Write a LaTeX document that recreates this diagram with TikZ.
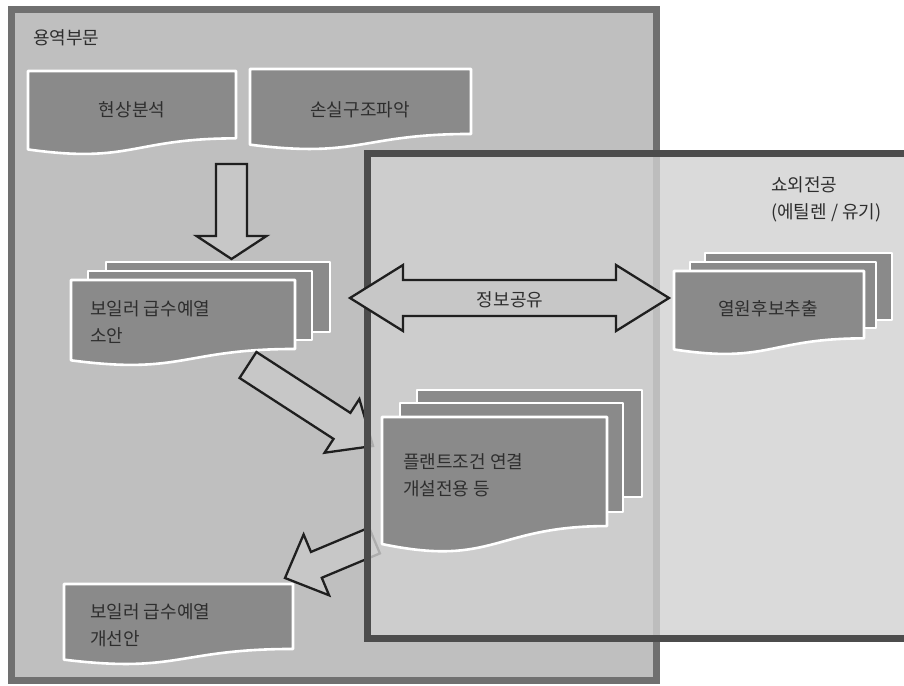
\documentclass[tikz,border=0pt]{standalone}
\usepackage{fontspec}
\newfontfamily\krfont{Noto Sans CJK KR}
\usetikzlibrary{calc}
\definecolor{leftbg}{gray}{0.75}
\definecolor{leftborder}{gray}{0.44}
\definecolor{rightbg}{gray}{0.82}
\definecolor{rightborder}{gray}{0.30}
\definecolor{docfill}{gray}{0.54}
\definecolor{textcol}{gray}{0.18}
\definecolor{arrowfill}{gray}{0.78}
\definecolor{arrowline}{gray}{0.12}

\tikzset{
  lbl/.style={font=\krfont\fontsize{18}{27}\selectfont, text=textcol, inner sep=0pt, align=left},
  docshape/.style={fill=docfill, draw=white, line width=2.6pt, line join=round},
  blockarrow/.style={fill=arrowfill, draw=arrowline, line width=2.3pt, line join=miter},
  boxborder/.style={line width=7pt},
}

% document shape: x y w h
\newcommand{\docpath}[4]{%
  \path[docshape] (#1,#2) -- ({#1+#3},#2) -- ({#1+#3},{#2+0.802*#4})
    .. controls ({#1+0.5*#3},{#2+0.802*#4}) and ({#1+0.5*#3},{#2+1.107*#4}) ..
    (#1,{#2+0.934*#4}) -- cycle;}
% stacked sheet behind: x y w h
\newcommand{\sheetpath}[4]{%
  \path[docshape] (#1,#2) rectangle ({#1+#3},{#2+#4});}

% single block arrow: tail, tip, half shaft, half head, head length
\newcommand{\singlearrow}[5]{%
  \coordinate (sa-c) at ($(#2)!#5!(#1)$);
  \draw[blockarrow] ($(#1)!#3!90:(#2)$) -- ($(sa-c)!#3!90:(#2)$) -- ($(sa-c)!#4!90:(#2)$)
    -- (#2) -- ($(sa-c)!#4!-90:(#2)$) -- ($(sa-c)!#3!-90:(#2)$) -- ($(#1)!#3!-90:(#2)$) -- cycle;}
% double block arrow: tip1, tip2, half shaft, half head, head length
\newcommand{\twowayarrow}[5]{%
  \coordinate (da-c1) at ($(#1)!#5!(#2)$);
  \coordinate (da-c2) at ($(#2)!#5!(#1)$);
  \draw[blockarrow] (#1) -- ($(da-c1)!#4!90:(#2)$) -- ($(da-c1)!#3!90:(#2)$)
    -- ($(da-c2)!#3!90:(#2)$) -- ($(da-c2)!#4!90:(#2)$) -- (#2)
    -- ($(da-c2)!#4!-90:(#2)$) -- ($(da-c2)!#3!-90:(#2)$)
    -- ($(da-c1)!#3!-90:(#2)$) -- ($(da-c1)!#4!-90:(#2)$) -- cycle;}

\begin{document}
\begin{tikzpicture}[x=1pt,y=-1pt]
\useasboundingbox (0,0) rectangle (904,685);
\fill[white] (0,0) rectangle (904,685);
\clip (0,0) rectangle (904,685);

% ---- left frame (용역부문)
\draw[boxborder, draw=leftborder, fill=leftbg] (11.5,9.5) rectangle (656.5,680);

% ---- documents in left frame
\docpath{28}{71}{208}{84}
\docpath{250}{69}{221}{81}
\sheetpath{106}{262}{224}{70}
\sheetpath{88}{271}{224}{69}
\docpath{71}{280}{224}{86}
\docpath{64}{584}{229}{81}

% ---- arrow end points
\coordinate (a1s) at (231.5,164);
\coordinate (a1e) at (231.5,259);
\coordinate (a2s) at (248,365);
\coordinate (a2e) at (373,446);
\coordinate (a3s) at (374.5,540.5);
\coordinate (a3e) at (285,578);

\singlearrow{a1s}{a1e}{15.5pt}{35pt}{23pt}
\singlearrow{a2s}{a2e}{15.5pt}{32pt}{37pt}
\singlearrow{a3s}{a3e}{14pt}{33pt}{34pt}

% ---- right frame (쇼외전공)
\fill[rightbg, fill opacity=0.8] (367,153.5) rectangle (920,638.5);
\draw[boxborder, draw=rightborder] (367,153.5) rectangle (920,638.5);

% ---- documents in right frame
\sheetpath{705}{253}{187}{67}
\sheetpath{690}{262}{186}{66}
\docpath{674}{271}{190}{84}
\sheetpath{417}{390}{225}{107}
\sheetpath{400}{403}{223}{109}
\docpath{382}{417}{225}{136}

% ---- information sharing arrow
\coordinate (dl) at (350,298);
\coordinate (dr) at (669,298);
\twowayarrow{dl}{dr}{18pt}{33pt}{53pt}

% ---- texts
\node[lbl, anchor=west] (tOuter) at (33,38) {용역부문};
\node[lbl] (tPhen) at (132,110) {현상분석};
\node[lbl] (tLoss) at (360,110) {손실구조파악};
\node[lbl, anchor=west] (tDraft) at (90,322.5) {보일러 급수예열\\소안};
\node[lbl] (tShare) at (510,300) {정보공유};
\node[lbl, anchor=west] (tPartner) at (771,199) {쇼외전공\\(에틸렌 / 유기)};
\node[lbl] (tHeat) at (768,309) {열원후보추출};
\node[lbl, anchor=west] (tPlant) at (403,475) {플랜트조건 연결\\개설전용 등};
\node[lbl, anchor=west] (tImprove) at (90,625) {보일러 급수예열\\개선안};
\end{tikzpicture}
\end{document}
